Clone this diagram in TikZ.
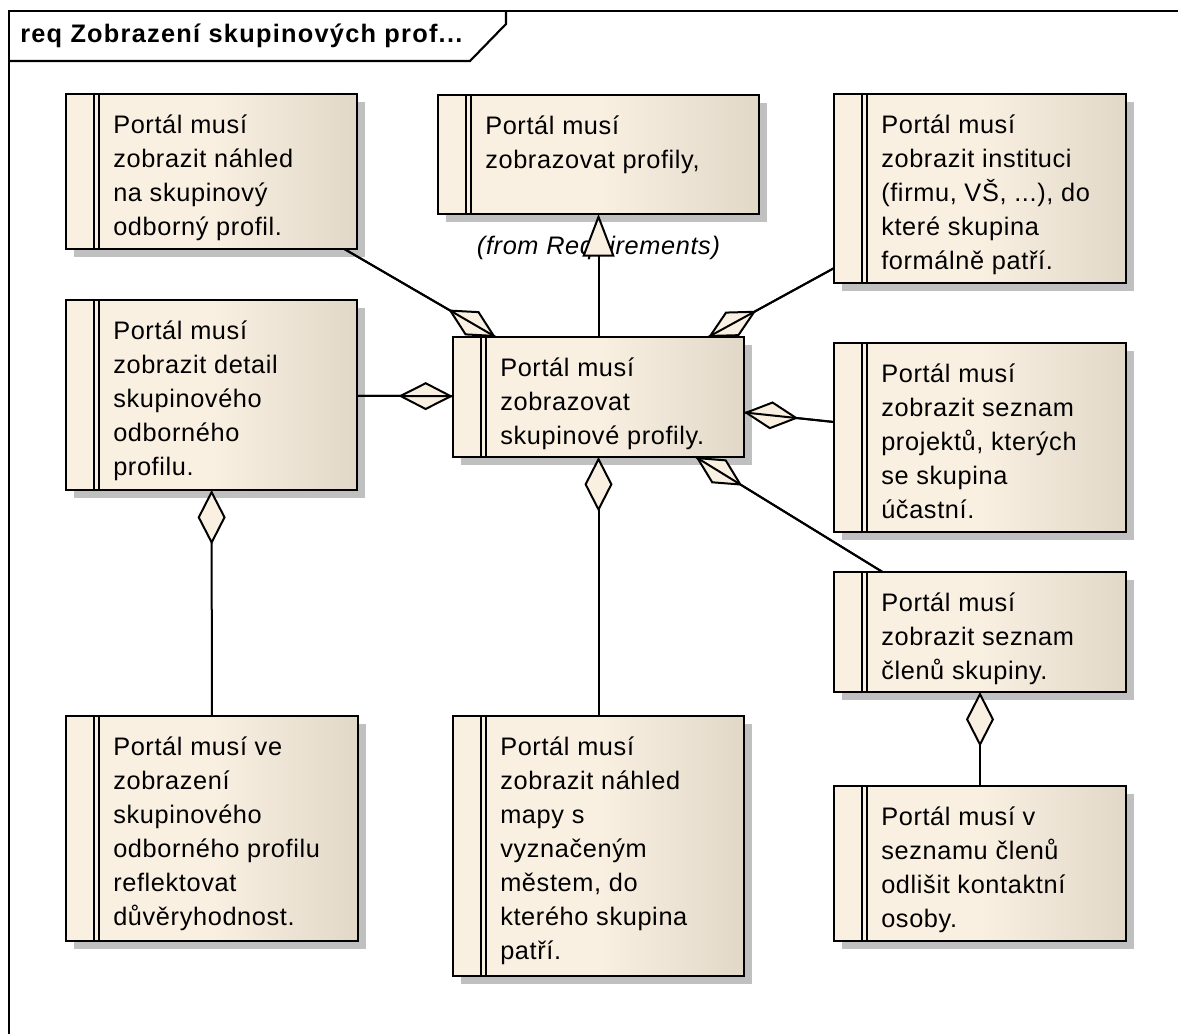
\documentclass[tikz,border=0pt]{standalone}
\usepackage{fontspec}
\setmainfont{Liberation Sans}[LetterSpace=2.5]
\usetikzlibrary{arrows.meta,shadows}

\definecolor{reqcream}{HTML}{FAF0E2}
\definecolor{reqtan}{HTML}{E2D8C8}
\definecolor{reqshadow}{HTML}{C0C0C0}

% requirement body: flat cream on the left, darkening towards the right edge
\pgfdeclarehorizontalshading{reqshade}{100bp}{color(0bp)=(reqcream); color(25bp)=(reqcream); color(50bp)=(reqcream); color(75bp)=(reqtan); color(100bp)=(reqtan)}

\newcommand\reqfont{\fontsize{19pt}{25.5pt}\selectfont}

\tikzset{
  reqbox/.style 2 args={draw, line width=1.6pt, shade, shading=reqshade,
    anchor=north west, inner sep=0pt, outer sep=0pt,
    minimum width=#1*0.75pt, minimum height=#2*0.75pt,
    drop shadow={shadow xshift=6pt, shadow yshift=-6pt, fill=reqshadow, opacity=1, draw=none},
    path picture={
      \draw[line width=1.5pt]
        ([xshift=21pt]path picture bounding box.north west) -- ([xshift=21pt]path picture bounding box.south west)
        ([xshift=24.75pt]path picture bounding box.north west) -- ([xshift=24.75pt]path picture bounding box.south west);
    }},
  reqtext/.style={anchor=north west, inner sep=0pt, align=left, font=\reqfont,
    execute at begin node={\rule{0pt}{18pt}}},
  frameline/.style={line width=1.6pt},
  conn/.style={line width=1.5pt},
  assoc/.style={line width=1.5pt, -{Diamond[length=41pt, width=21pt, fill=reqcream]}},
  gen/.style={line width=1.5pt, -{Triangle[length=32pt, width=24pt, fill=reqcream]}},
}

\begin{document}
\begin{tikzpicture}[x=0.75pt, y=-0.75pt]
\useasboundingbox (0,0) rectangle (1178,1034);

% diagram frame and its name tab
\draw[frameline] (9,1034) -- (9,11) -- (1178,11);
\draw[frameline] (9,61) -- (470,61) -- (506,24) -- (506,11);
\node[anchor=base west, inner sep=0pt, font=\reqfont\bfseries\addfontfeatures{LetterSpace=5}] (title) at (20,43) {req Zobrazení skupinových prof...};

% requirement boxes
\node[reqbox={291}{155}] (tl) at (66,94) {};
\node[reqbox={321}{119}] (tc) at (438,95) {};
\node[reqbox={292}{189}] (tr) at (834,94) {};
\node[reqbox={291}{190}] (ml) at (66,300) {};
\node[reqbox={291}{120}] (c)  at (453,337) {};
\node[reqbox={292}{189}] (rm) at (834,343) {};
\node[reqbox={292}{120}] (rl) at (834,572) {};
\node[reqbox={292}{225}] (bl) at (66,716) {};
\node[reqbox={291}{260}] (bc) at (453,716) {};
\node[reqbox={292}{155}] (br) at (834,786) {};

% requirement texts
\node[reqtext] (tlt) at ([shift={(47,21)}]tl.north west) {Portál musí\\zobrazit náhled\\na skupinový\\odborný profil.};
\node[reqtext] (tct) at ([shift={(47,21)}]tc.north west) {Portál musí\\zobrazovat profily,};
\node[reqtext] (trt) at ([shift={(47,21)}]tr.north west) {Portál musí\\zobrazit instituci\\(firmu, VŠ, ...), do\\které skupina\\formálně patří.};
\node[reqtext] (mlt) at ([shift={(47,21)}]ml.north west) {Portál musí\\zobrazit detail\\skupinového\\odborného\\profilu.};
\node[reqtext] (ct)  at ([shift={(47,21)}]c.north west)  {Portál musí\\zobrazovat\\skupinové profily.};
\node[reqtext] (rmt) at ([shift={(47,21)}]rm.north west) {Portál musí\\zobrazit seznam\\projektů, kterých\\se skupina\\účastní.};
\node[reqtext] (rlt) at ([shift={(47,21)}]rl.north west) {Portál musí\\zobrazit seznam\\členů skupiny.};
\node[reqtext] (blt) at ([shift={(47,21)}]bl.north west) {Portál musí ve\\zobrazení\\skupinového\\odborného profilu\\reflektovat\\důvěryhodnost.};
\node[reqtext] (bct) at ([shift={(47,21)}]bc.north west) {Portál musí\\zobrazit náhled\\mapy s\\vyznačeným\\městem, do\\kterého skupina\\patří.};
\node[reqtext] (brt) at ([shift={(47,21)}]br.north west) {Portál musí v\\seznamu členů\\odlišit kontaktní\\osoby.};

% package note under the realised requirement
\node[anchor=base, inner sep=0pt, font=\reqfont\itshape] (tcpkg) at ([yshift=-30.75pt]tc.south) {(from Requirements)};

% generalisation towards the general requirement
\draw[gen] (c) -- (tc);

% aggregations into the main requirement
\draw[assoc] (tl) -- (c);  \draw[conn] (tl) -- (c);
\draw[assoc] (tr) -- (c);  \draw[conn] (tr) -- (c);
\draw[assoc] (ml) -- (c);  \draw[conn] (ml) -- (c);
\draw[assoc] (rm) -- (c);  \draw[conn] (rm) -- (c);
\draw[assoc] (rl) -- (c);  \draw[conn] (rl) -- (c);
\draw[assoc] (bc) -- (c);
\draw[assoc] (bl) -- (ml);
\draw[assoc] (br) -- (rl);
\end{tikzpicture}
\end{document}
